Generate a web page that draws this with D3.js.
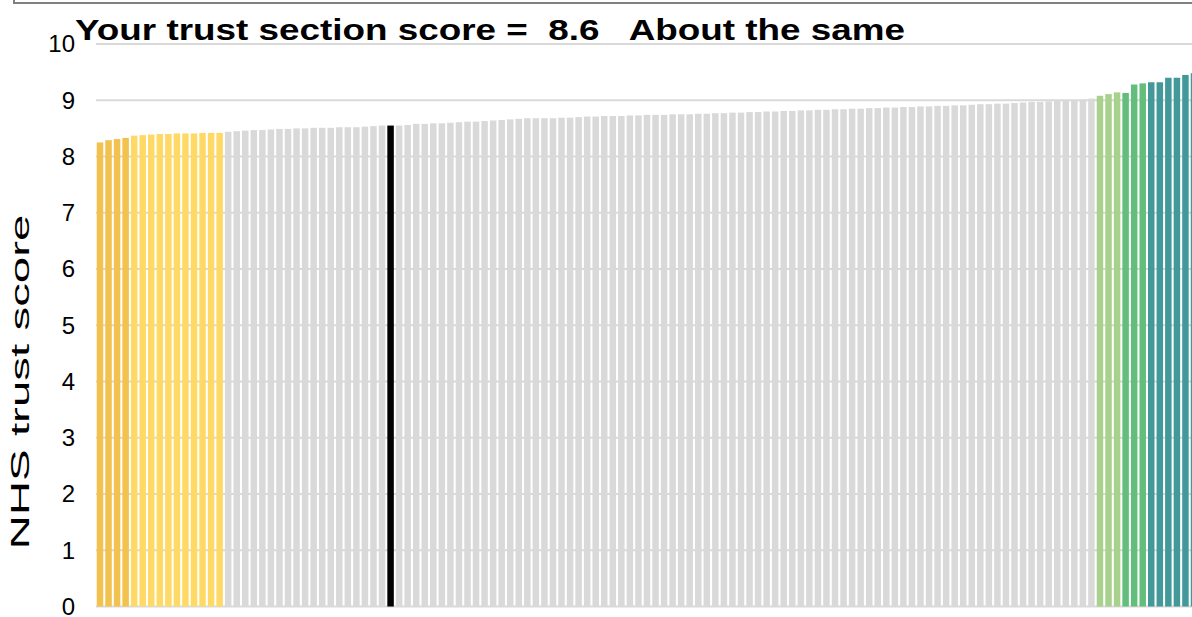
<!DOCTYPE html>
<html>
<head>
<meta charset="utf-8">
<script src="https://cdn.jsdelivr.net/npm/d3@7"></script>
<style>
  body { margin: 0; background: #fff; }
  svg { display: block; font-family: "Liberation Sans", Arial, sans-serif; }
</style>
</head>
<body>
<svg id="chart" width="1192" height="617"></svg>
<script>
// trust scores, sorted, grouped by colour band
let belowScores = [8.25, 8.29, 8.31, 8.33];
let lowScores = [8.37, 8.38, 8.39, 8.40, 8.40, 8.41, 8.41, 8.41, 8.42, 8.42, 8.42];
let midScores = [
  8.44, 8.45, 8.46, 8.47, 8.47, 8.48, 8.49, 8.49, 8.50, 8.50,
  8.51, 8.51, 8.51, 8.52, 8.52, 8.52, 8.53, 8.54, 8.55, 8.55,
  8.55, 8.56, 8.58, 8.58, 8.59, 8.59, 8.60, 8.61, 8.62, 8.62,
  8.63, 8.64, 8.65, 8.66, 8.67, 8.68, 8.68, 8.68, 8.68, 8.69,
  8.69, 8.70, 8.71, 8.71, 8.72, 8.72, 8.72, 8.73, 8.73, 8.74,
  8.74, 8.74, 8.75, 8.75, 8.75, 8.76, 8.76, 8.77, 8.77, 8.78,
  8.78, 8.79, 8.79, 8.80, 8.80, 8.81, 8.81, 8.82, 8.82, 8.83,
  8.83, 8.84, 8.84, 8.85, 8.85, 8.86, 8.86, 8.87, 8.87, 8.88,
  8.88, 8.89, 8.89, 8.90, 8.90, 8.91, 8.91, 8.92, 8.93, 8.93,
  8.94, 8.94, 8.95, 8.96, 8.97, 8.97, 8.98, 8.99, 8.99, 9.00,
  9.01, 9.03
];
let highScores = [9.08, 9.11, 9.14];
let higherScores = [9.13, 9.28, 9.30];
let topScores = [9.32, 9.32, 9.40, 9.40, 9.45, 9.48];

let bandColors = ["#f2c14e", "#ffd966", "#d9d9d9", "#a9d18e", "#63be7b", "#43999a"];
let yourTrust = 34;   // index of the highlighted trust
let yTicks = [0, 1, 2, 3, 4, 5, 6, 7, 8, 9, 10];

let bars = [];
[belowScores, lowScores, midScores, highScores, higherScores, topScores].forEach(function(arr, g) {
  arr.forEach(function(v) { bars.push({score: v, color: bandColors[g]}); });
});
bars.forEach(function(d, i) { d.i = i; if (i === yourTrust) d.color = "#000"; });

let svg = d3.select("#chart");

let x = d3.scaleBand()
  .domain(bars.map(d => d.i))
  .range([95.7, 95.7 + bars.length * 8.547])
  .paddingInner(0.24)
  .paddingOuter(0.12);

let y = d3.scaleLinear()
  .domain([0, 10])
  .range([606.5, 44]);

// cropped box along the top edge
svg.append("rect")
  .attr("x", 14).attr("y", -20)
  .attr("width", 1200).attr("height", 23)
  .attr("fill", "none")
  .attr("stroke", "#808080")
  .attr("stroke-width", 2);

// gridlines
svg.append("g")
  .selectAll("line")
  .data(yTicks)
  .join("line")
  .attr("x1", 96).attr("x2", 1192)
  .attr("y1", d => y(d)).attr("y2", d => y(d))
  .attr("stroke", "#d9d9d9")
  .attr("stroke-width", 2);

svg.append("g")
  .selectAll("rect")
  .data(bars)
  .join("rect")
  .attr("x", d => x(d.i))
  .attr("width", x.bandwidth())
  .attr("y", d => y(d.score))
  .attr("height", d => y(0) - y(d.score))
  .attr("fill", d => d.color);

let axis = d3.axisLeft(y).tickValues(yTicks).tickSize(0).tickPadding(0);
let ag = svg.append("g")
  .attr("transform", "translate(75,0)")
  .call(axis)
  .attr("font-size", 24)
  .attr("font-family", "Liberation Sans, Arial, sans-serif");
ag.select(".domain").remove();
ag.selectAll("text")
  .attr("fill", "#000")
  .attr("dy", "0.33em");

svg.append("text")
  .attr("transform", "translate(29,382) rotate(-90)")
  .attr("text-anchor", "middle")
  .attr("font-size", 26)
  .attr("textLength", 335)
  .attr("lengthAdjust", "spacingAndGlyphs")
  .text("NHS trust score");

svg.append("text")
  .attr("x", 75).attr("y", 40)
  .attr("font-size", 30)
  .attr("font-weight", "bold")
  .attr("textLength", 830)
  .attr("lengthAdjust", "spacingAndGlyphs")
  .style("white-space", "pre")
  .text("Your trust section score =  8.6   About the same");
</script>
</body>
</html>
